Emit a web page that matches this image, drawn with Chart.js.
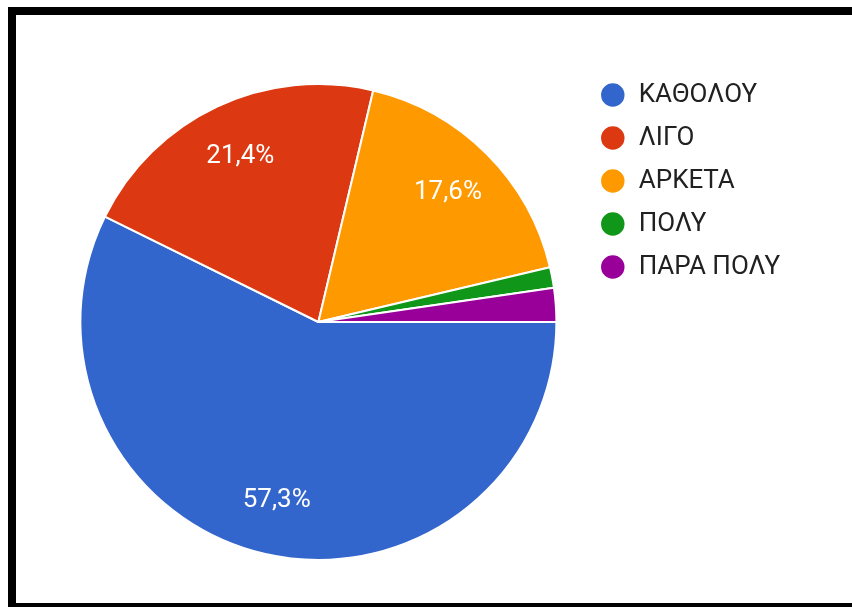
<!DOCTYPE html>
<html>
<head>
<meta charset="utf-8">
<script src="https://cdn.jsdelivr.net/npm/chart.js@4/dist/chart.umd.min.js"></script>
<style>
  html, body { margin: 0; padding: 0; background: #fff; overflow: hidden; }
  #wrap { position: absolute; left: 0; top: 0; width: 852px; height: 607px; }
  #frame { position: absolute; left: 8px; top: 7px; width: 900px; height: 588px; border: 8px solid #000; pointer-events: none; }
</style>
</head>
<body>
<div id="wrap"><canvas id="pieChart" width="852" height="607"></canvas></div>
<div id="frame"></div>
<script>
// answers and their share (%)
const answers = ['ΚΑΘΟΛΟΥ', 'ΛΙΓΟ', 'ΑΡΚΕΤΑ', 'ΠΟΛΥ', 'ΠΑΡΑ ΠΟΛΥ'];
const shares = [57.3, 21.4, 17.6, 1.4, 2.3];
const sliceColors = ['#3366cc', '#dc3912', '#ff9900', '#109618', '#990099'];

const FONT = 'Roboto, "Noto Sans", sans-serif';

// percent text inside the bigger slices
const sliceLabels = {
    id: 'sliceLabels',
    afterDatasetsDraw(chart) {
        const ctx = chart.ctx;
        const meta = chart.getDatasetMeta(0);
        ctx.save();
        ctx.font = '26px ' + FONT;
        ctx.fillStyle = '#ffffff';
        ctx.textAlign = 'center'; ctx.textBaseline = 'middle';
        meta.data.forEach((arc, i) => {
            const v = shares[i];
            if (v < 5) return;
            const p = arc.getProps(['x', 'y', 'startAngle', 'endAngle', 'outerRadius'], true);
            const mid = (p.startAngle + p.endAngle) / 2;
            const r = p.outerRadius * 0.77;
            ctx.fillText(v.toFixed(1).replace('.', ',') + '%', p.x + Math.cos(mid) * r, p.y + Math.sin(mid) * r);
        });
        ctx.restore();
    }
};

new Chart(document.getElementById('pieChart').getContext('2d'), {
    type: 'pie',
    data: {
        labels: answers,
        datasets: [{
            data: shares,
            backgroundColor: sliceColors,
            borderColor: '#ffffff',
            borderWidth: 2,
            radius: 238
        }]
    },
    options: {
        responsive: false,
        animation: false,
        rotation: 90,
        layout: { padding: { left: 54, top: 65, bottom: 28, right: 62 } },
        plugins: {
            tooltip: { enabled: false },
            legend: {
                position: 'right',
                align: 'start',
                labels: {
                    usePointStyle: true,
                    pointStyle: 'circle',
                    boxHeight: 18,
                    padding: 17,
                    color: '#212121',
                    font: { family: FONT, size: 26 }
                }
            }
        }
    },
    plugins: [sliceLabels]
});
</script>
</body>
</html>
